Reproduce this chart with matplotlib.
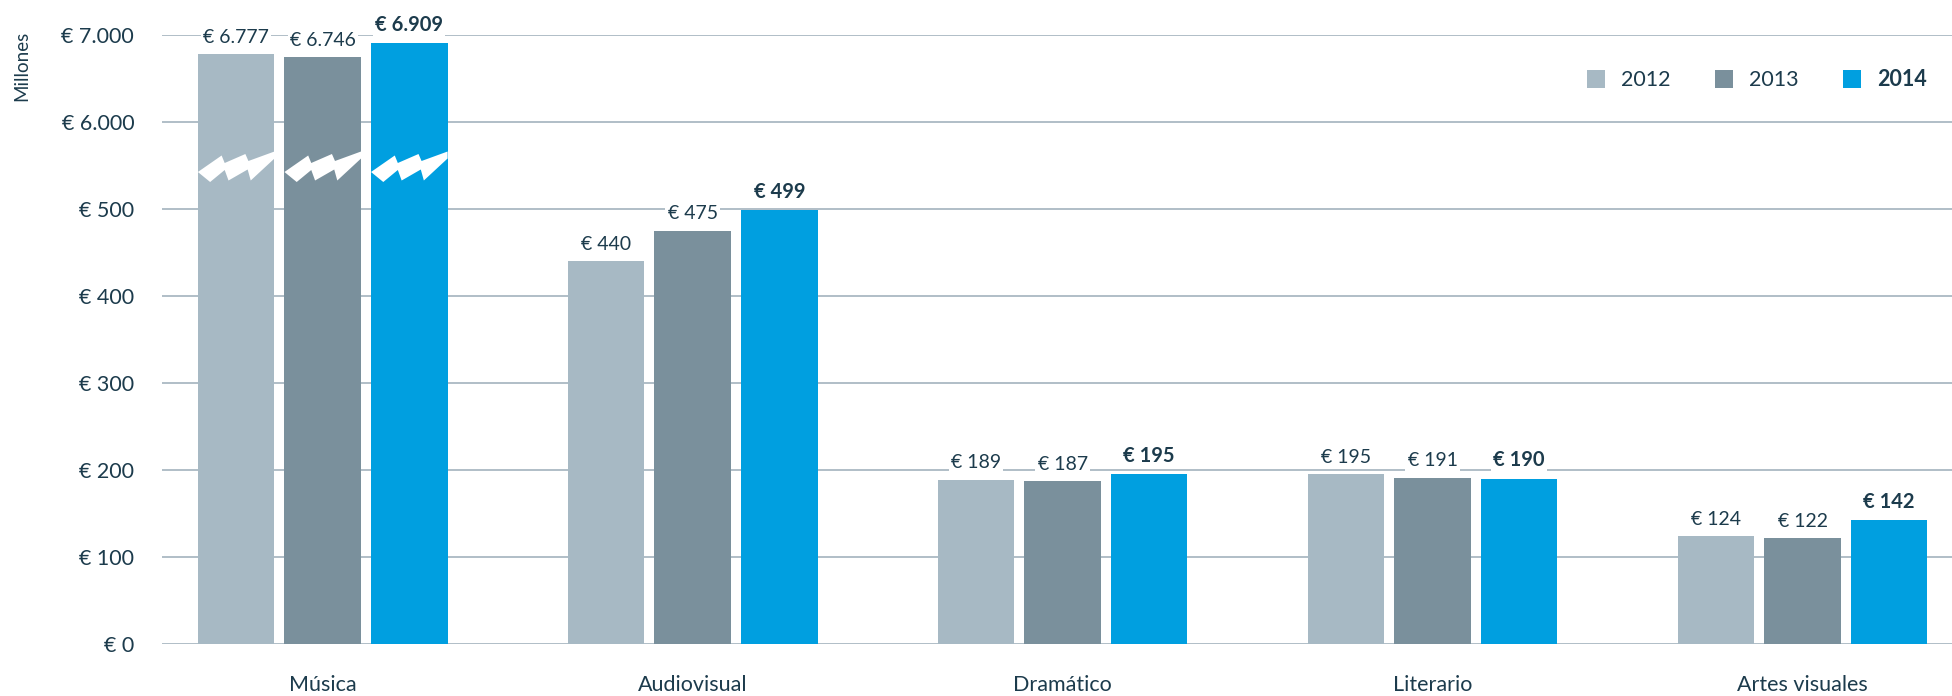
"""
Recaudación por repertorio 2012-2014, con eje Y partido entre 500 y 6.000.
"""

import numpy as np
import matplotlib
matplotlib.use("Agg")
import matplotlib.pyplot as plt
from matplotlib.patches import Patch, Polygon

plt.rcParams["font.family"] = ["Lato", "DejaVu Sans"]

# Data
categories = ["Música", "Audiovisual", "Dramático", "Literario", "Artes visuales"]
years = ["2012", "2013", "2014"]
values_2012 = [6777, 440, 189, 195, 124]
values_2013 = [6746, 475, 187, 191, 122]
values_2014 = [6909, 499, 195, 190, 142]
tick_values = [0, 100, 200, 300, 400, 500, 6000, 7000]

COLORS = ["#a7b9c4", "#7a909c", "#009fe0"]
TEXT = "#1c3b4c"
GRID = "#aab9c3"


def forward(v):
    v = np.asarray(v, dtype=float)
    return np.where(v <= 500, v,
                    np.where(v <= 6000, 500 + (v - 500) / 55.0, 600 + (v - 6000) / 10.0))


def inverse(t):
    t = np.asarray(t, dtype=float)
    return np.where(t <= 500, t,
                    np.where(t <= 600, 500 + (t - 500) * 55.0, 6000 + (t - 600) * 10.0))


def euro(v):
    return "€ " + f"{v:,}".replace(",", ".")


W, H = 1952, 696
fig = plt.figure(figsize=(W / 100, H / 100), dpi=100)
ax = fig.add_axes([162 / W, 1 - 644 / H, 1 - 162 / W, (644 - 35) / H])

ax.set_yscale("function", functions=(forward, inverse))
ax.set_ylim(0, 7000)
ax.set_xlim(-0.4345, 4.404)

x = np.arange(len(categories))
step = 0.234
width = 0.207
series = [values_2012, values_2013, values_2014]

bars_by_year = []
for i, vals in enumerate(series):
    bars = ax.bar(x + (i - 1) * step, vals, width, color=COLORS[i], zorder=2)
    bars_by_year.append(bars)
    for xi, v in zip(x + (i - 1) * step, vals):
        ax.annotate(euro(v), (xi, v), xytext=(0, 6), textcoords="offset points",
                    ha="center", va="bottom", color=TEXT,
                    fontsize=14.5 if i == 2 else 14,
                    fontweight="bold" if i == 2 else "normal",
                    bbox=dict(facecolor="white", edgecolor="none", pad=1.5),
                    zorder=4)

# lightning-shaped break marks on the Música bars (u across bar, y in pixels)
zig_u = [0.0, 0.31, 0.35, 0.62, 0.66, 1.0, 1.0, 0.69, 0.65, 0.40, 0.35, 0.16]
zig_y = [172, 155.5, 163, 154, 161, 151.5, 158.5, 180.5, 169.5, 180.5, 170, 182]
for bars in bars_by_year:
    b = bars[0]
    pts = [(b.get_x() + u * b.get_width(), (644 - yy) / (644 - 35))
           for u, yy in zip(zig_u, zig_y)]
    poly = Polygon(pts, closed=True, facecolor="white", edgecolor="none",
                   transform=ax.get_xaxis_transform(), zorder=3)
    ax.add_patch(poly)
    poly.set_clip_path(b)

# axes styling
ax.set_yticks(tick_values)
ax.set_yticklabels([euro(v) for v in tick_values])
ax.yaxis.set_minor_locator(matplotlib.ticker.NullLocator())
ax.tick_params(axis="y", length=0, pad=20, labelsize=15.5, labelcolor=TEXT)
ax.set_xticks(x)
ax.set_xticklabels(categories)
ax.tick_params(axis="x", length=0, pad=22, labelsize=15.5, labelcolor=TEXT)
ax.grid(axis="y", color=GRID, lw=1.3)
ax.set_axisbelow(True)
for s in ax.spines.values():
    s.set_visible(False)

fig.text(22 / W, 1 - 66 / H, "Millones", rotation=90, ha="center", va="center",
         fontsize=13.5, color=TEXT)

handles = [Patch(facecolor=c, edgecolor="none") for c in COLORS]
leg = ax.legend(handles, years, loc="center right", bbox_to_anchor=(1.0, 1 - (80 - 35) / 609),
                ncol=3, frameon=False, fontsize=15.5, handlelength=0.85, handleheight=0.85,
                handletextpad=0.75, columnspacing=2.05, borderaxespad=0.75)
for t in leg.get_texts():
    t.set_color(TEXT)
leg.get_texts()[2].set_fontweight("bold")

fig.savefig("out.png", dpi=100)
